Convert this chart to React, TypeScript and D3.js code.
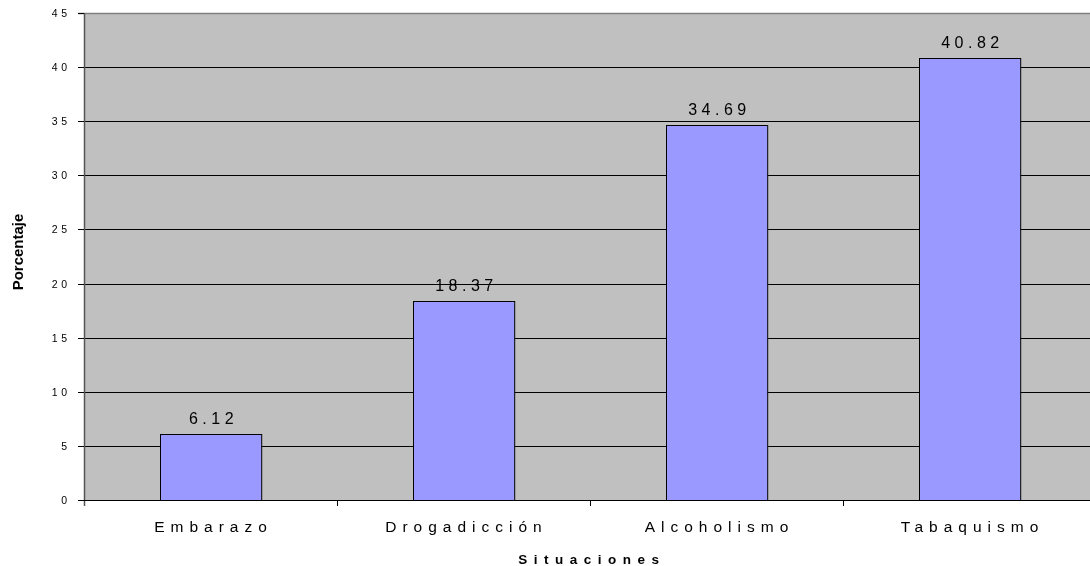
import * as d3 from "d3";
import React, { useEffect, useRef } from "react";

const categories = ["Embarazo", "Drogadicción", "Alcoholismo", "Tabaquismo"];
const values = [6.12, 18.37, 34.69, 40.82];
const yTicks = [0, 5, 10, 15, 20, 25, 30, 35, 40, 45];

const App = () => {
  const ref = useRef(null);
  const svgWidth = 1090;
  const svgHeight = 566;
  let margin = { top: 13, left: 84 };
  let plotBottom = 500;
  let plotRight = 1096;

  useEffect(() => {
    const root = d3.select(ref.current);
    root.selectAll("*").remove();

    const svg = root
      .append("svg")
      .attr("width", svgWidth)
      .attr("height", svgHeight)
      .style("display", "block")
      .style("font-family", "'Liberation Sans', Arial, sans-serif");

    let y = d3.scaleLinear().domain([0, 45]).range([plotBottom, margin.top]);
    let x = d3
      .scaleBand()
      .domain(categories)
      .range([margin.left, plotRight])
      .paddingInner(0.6)
      .paddingOuter(0.3);
    let xb = d3.scaleBand().domain(categories).range([margin.left, plotRight]);

    // plot background
    svg
      .append("rect")
      .attr("x", margin.left)
      .attr("y", margin.top)
      .attr("width", plotRight - margin.left)
      .attr("height", plotBottom - margin.top)
      .attr("fill", "#c0c0c0");

    // gridlines
    svg
      .selectAll(".grid")
      .data(yTicks.filter((t) => t > 0 && t < 45))
      .enter()
      .append("line")
      .attr("x1", margin.left)
      .attr("x2", plotRight)
      .attr("y1", (d) => Math.round(y(d)) + 0.5)
      .attr("y2", (d) => Math.round(y(d)) + 0.5)
      .attr("stroke", "#000")
      .attr("stroke-width", 1);

    // top + left border
    svg
      .append("line")
      .attr("x1", margin.left - 6)
      .attr("x2", plotRight)
      .attr("y1", margin.top + 0.5)
      .attr("y2", margin.top + 0.5)
      .attr("stroke", "#808080")
      .attr("stroke-width", 1.5);
    svg
      .append("line")
      .attr("x1", margin.left + 0.5)
      .attr("x2", margin.left + 0.5)
      .attr("y1", margin.top)
      .attr("y2", plotBottom + 6)
      .attr("stroke", "#555")
      .attr("stroke-width", 1.5);

    // y ticks
    svg
      .selectAll(".ytick")
      .data(yTicks)
      .enter()
      .append("line")
      .attr("x1", margin.left - 6)
      .attr("x2", margin.left)
      .attr("y1", (d) => Math.round(y(d)) + 0.5)
      .attr("y2", (d) => Math.round(y(d)) + 0.5)
      .attr("stroke", "#000");

    svg
      .selectAll(".ylab")
      .data(yTicks)
      .enter()
      .append("text")
      .attr("x", 70.5)
      .attr("y", (d) => y(d) + 4)
      .attr("text-anchor", "end")
      .attr("font-size", 10.5)
      .attr("letter-spacing", 3.5)
      .attr("fill", "#000")
      .text((d) => d);

    // bars
    svg
      .selectAll(".bar")
      .data(values)
      .enter()
      .append("rect")
      .attr("x", (d, i) => Math.round(x(categories[i])) + 0.5)
      .attr("y", (d) => Math.round(y(d)) + 0.5)
      .attr("width", x.bandwidth())
      .attr("height", (d) => plotBottom - Math.round(y(d)))
      .attr("fill", "#9999ff")
      .attr("stroke", "#000")
      .attr("stroke-width", 1);

    // value labels
    svg
      .selectAll(".val")
      .data(values)
      .enter()
      .append("text")
      .attr("x", (d, i) => x(categories[i]) + x.bandwidth() / 2 + 3)
      .attr("y", (d) => y(d) - 10)
      .attr("text-anchor", "middle")
      .attr("font-size", 16)
      .attr("letter-spacing", 4.5)
      .attr("fill", "#000")
      .text((d) => d.toFixed(2));

    // x axis
    svg
      .append("line")
      .attr("x1", margin.left)
      .attr("x2", plotRight)
      .attr("y1", plotBottom + 0.5)
      .attr("y2", plotBottom + 0.5)
      .attr("stroke", "#000");

    svg
      .selectAll(".xtick")
      .data(categories.slice(1))
      .enter()
      .append("line")
      .attr("x1", (d) => Math.round(xb(d)) + 0.5)
      .attr("x2", (d) => Math.round(xb(d)) + 0.5)
      .attr("y1", plotBottom)
      .attr("y2", plotBottom + 6)
      .attr("stroke", "#000");

    svg
      .selectAll(".xlab")
      .data(categories)
      .enter()
      .append("text")
      .attr("x", (d) => xb(d) + xb.bandwidth() / 2 + 3)
      .attr("y", 532)
      .attr("text-anchor", "middle")
      .attr("font-size", 15.5)
      .attr("letter-spacing", 6)
      .attr("fill", "#000")
      .text((d) => d);

    // axis titles
    svg
      .append("text")
      .attr("x", 592)
      .attr("y", 564)
      .attr("text-anchor", "middle")
      .attr("font-size", 13.5)
      .attr("font-weight", "bold")
      .attr("letter-spacing", 6.5)
      .text("Situaciones");

    svg
      .append("text")
      .attr("transform", "translate(23,252) rotate(-90)")
      .attr("text-anchor", "middle")
      .attr("font-size", 15)
      .attr("font-weight", "bold")
      .text("Porcentaje");
  }, []);

  return <div ref={ref} style={{ position: "fixed", left: 0, top: 0 }}></div>;
};

export default App;
